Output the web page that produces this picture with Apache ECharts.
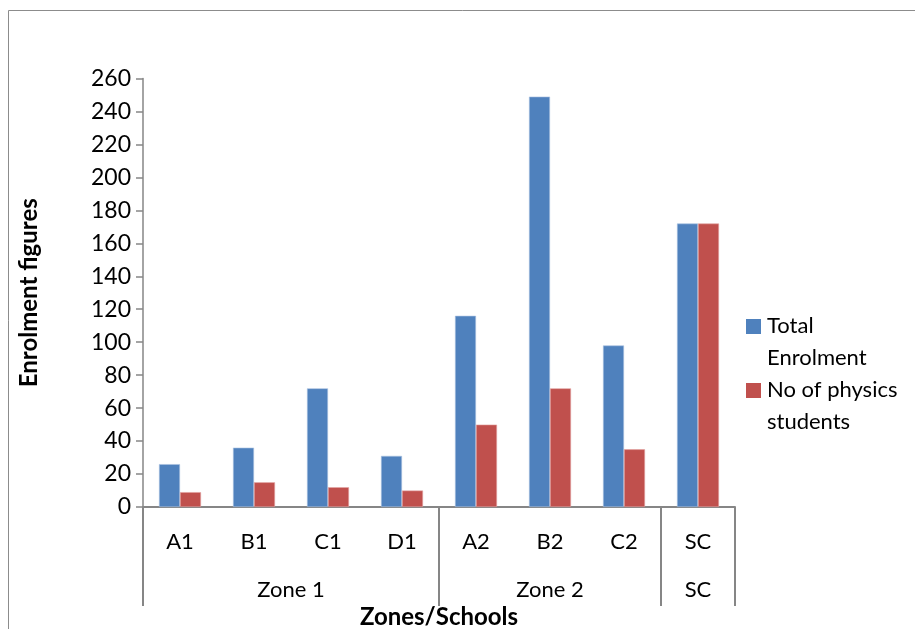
<!DOCTYPE html>
<html>
<head>
<meta charset="utf-8">
<script src="https://cdn.jsdelivr.net/npm/echarts@6/dist/echarts.min.js"></script>
<style>
html,body{margin:0;padding:0;background:#fff;}
#c{width:915px;height:629px;}
</style>
</head>
<body>
<div id="c"></div>
<script>
var schools = ['A1','B1','C1','D1','A2','B2','C2','SC'];
var groupNames = ['Zone 1','Zone 2','SC'];
var groupCenters = [2, 5.5, 7.5];
var groupBounds = [0, 4, 7, 8];
var totalEnrolment = [26, 36, 72, 31, 116, 249, 98, 172];
var physicsStudents = [9, 15, 12, 10, 50, 72, 35, 172];
var yTicks = {min: 0, max: 260, interval: 20};

var FONT = 'Lato';
var chart = echarts.init(document.getElementById('c'), null, {renderer: 'canvas'});
var option = {
  animation: false,
  backgroundColor: '#fff',
  graphic: [{
    type: 'rect', silent: true,
    shape: {x: 8.5, y: 10.5, width: 1000, height: 1000},
    style: {fill: 'none', stroke: '#8c8c8c', lineWidth: 1}
  }],
  grid: {left: 143, right: 180, top: 78.5, bottom: 122, outerBoundsMode: 'none', containLabel: false},
  legend: {
    orient: 'vertical',
    left: 746, top: 310,
    padding: 0,
    itemWidth: 15, itemHeight: 46, itemGap: 0,
    icon: 'path://M0,0H15V15H0Z M0,46H0.01V46.01H0Z',
    itemStyle: {borderWidth: 0},
    textStyle: {fontFamily: FONT, fontSize: 22, color: '#000', lineHeight: 32, padding: [0, 0, 0, 1]},
    data: [
      {name: 'Total\nEnrolment'},
      {name: 'No of physics\nstudents'}
    ]
  },
  xAxis: [{
    type: 'category',
    data: schools,
    position: 'bottom',
    axisLine: {lineStyle: {color: '#868686', width: 2}},
    axisTick: {show: false},
    axisLabel: {fontFamily: FONT, fontSize: 22, color: '#000', margin: 24},
    name: 'Zones/Schools',
    nameLocation: 'middle',
    nameGap: 98,
    nameTextStyle: {fontFamily: FONT, fontSize: 24, fontWeight: 'bold', color: '#000'}
  }, {
    type: 'value',
    min: 0, max: 8,
    position: 'bottom',
    axisLine: {show: false},
    splitLine: {show: false},
    axisTick: {show: true, inside: false, length: 99, customValues: groupBounds,
      lineStyle: {color: '#868686', width: 2}},
    axisLabel: {fontFamily: FONT, fontSize: 22, color: '#000', margin: 72,
      customValues: groupCenters,
      formatter: function (v) {
        var i = groupCenters.indexOf(v);
        return i >= 0 ? groupNames[i] : '';
      }}
  }],
  yAxis: {
    type: 'value',
    min: yTicks.min, max: yTicks.max, interval: yTicks.interval,
    axisLine: {show: true, lineStyle: {color: '#868686', width: 1.5}},
    axisTick: {show: true, length: 7, lineStyle: {color: '#868686', width: 1.5}},
    splitLine: {show: false},
    axisLabel: {fontFamily: FONT, fontSize: 23, color: '#000', margin: 12},
    name: 'Enrolment figures',
    nameLocation: 'middle',
    nameGap: 102,
    nameRotate: 90,
    nameTextStyle: {fontFamily: FONT, fontSize: 24, fontWeight: 'bold', color: '#000'}
  },
  series: [{
    name: 'Total\nEnrolment',
    type: 'bar',
    data: totalEnrolment,
    barWidth: 21,
    barGap: '0%',
    itemStyle: {color: '#4f81bd', borderColor: '#a9c1e0', borderWidth: 0.6}
  }, {
    name: 'No of physics\nstudents',
    type: 'bar',
    data: physicsStudents,
    barWidth: 21,
    barGap: '0%',
    itemStyle: {color: '#c0504d', borderColor: '#e3a3a1', borderWidth: 0.6}
  }]
};
chart.setOption(option);
</script>
</body>
</html>
